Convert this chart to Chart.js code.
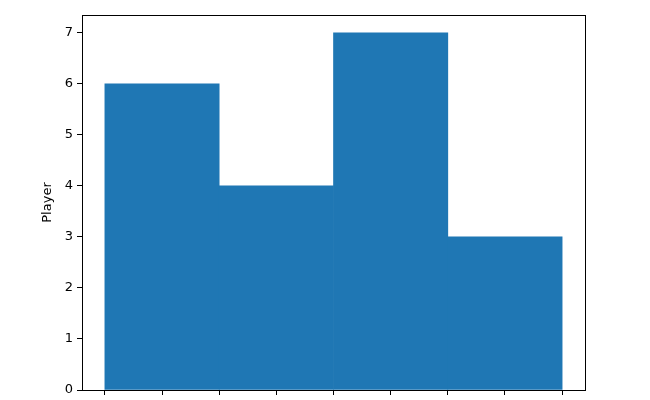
<!DOCTYPE html>
<html>
<head>
<meta charset="utf-8">
<script src="https://cdn.jsdelivr.net/npm/chart.js@4"></script>
<style>
  html, body { margin: 0; padding: 0; background: #fff; }
  #wrap { width: 650px; height: 400px; }
</style>
</head>
<body>
<div id="wrap"><canvas id="grafica" width="650" height="400"></canvas></div>
<script>
// datos del gráfico
const barCenters = [1, 3, 5, 7];
const barWidth = 2;
const playerValues = [6, 4, 7, 3];
const xTicks = [0, 1, 2, 3, 4, 5, 6, 7, 8];
const yTicks = [0, 1, 2, 3, 4, 5, 6, 7];
const yLabel = "Player";

// marco completo como en matplotlib
const boxPlugin = {
    id: "box",
    afterDraw(chart) {
        const a = chart.chartArea;
        const ctx = chart.ctx;
        ctx.save();
        ctx.strokeStyle = "#000";
        ctx.lineWidth = 1;
        ctx.strokeRect(Math.round(a.left) + 0.5, Math.round(a.top) + 0.5,
            Math.round(a.right - a.left), Math.round(a.bottom - a.top));
        ctx.restore();
    }
};

const ctx = document.getElementById("grafica").getContext("2d");
const myChart = new Chart(ctx, {
    type: "bar",
    data: {
        datasets: [{
            data: barCenters.map((x, i) => ({ x: x, y: playerValues[i] })),
            backgroundColor: "#1f77b4",
            borderWidth: 0,
            // ancho de barra en unidades de datos, pasado a píxeles con la escala
            barThickness: (c) => {
                const sx = c.chart.scales.x;
                return Math.abs(sx.getPixelForValue(barWidth) - sx.getPixelForValue(0));
            }
        }]
    },
    options: {
        responsive: false,
        animation: false,
        devicePixelRatio: 1,
        layout: { padding: { left: 40, right: 65, top: 15, bottom: 0 } },
        plugins: { legend: { display: false }, tooltip: { enabled: false } },
        scales: {
            x: {
                type: "linear",
                min: -0.4,
                max: 8.4,
                offset: false,
                grid: { offset: false, drawOnChartArea: false, drawTicks: true, tickLength: 5, color: "#000" },
                border: { display: true, color: "#000" },
                ticks: { display: false },
                afterBuildTicks: (scale) => { scale.ticks = xTicks.map(v => ({ value: v })); },
                afterFit: (scale) => { scale.height = 10; }
            },
            y: {
                min: 0,
                max: 7.35,
                grid: { drawOnChartArea: false, drawTicks: true, tickLength: 5, color: "#000" },
                border: { display: true, color: "#000" },
                ticks: {
                    color: "#000",
                    padding: 4,
                    font: { family: "DejaVu Sans", size: 13 }
                },
                afterBuildTicks: (scale) => { scale.ticks = yTicks.map(v => ({ value: v })); },
                title: {
                    display: true,
                    text: yLabel,
                    color: "#000",
                    font: { family: "DejaVu Sans", size: 13 },
                    padding: 0
                },
                afterFit: (scale) => {
                    scale.width = 42;
                    scale.paddingTop = 0;
                    scale.paddingBottom = 0;
                }
            }
        }
    },
    plugins: [boxPlugin]
});
</script>
</body>
</html>
